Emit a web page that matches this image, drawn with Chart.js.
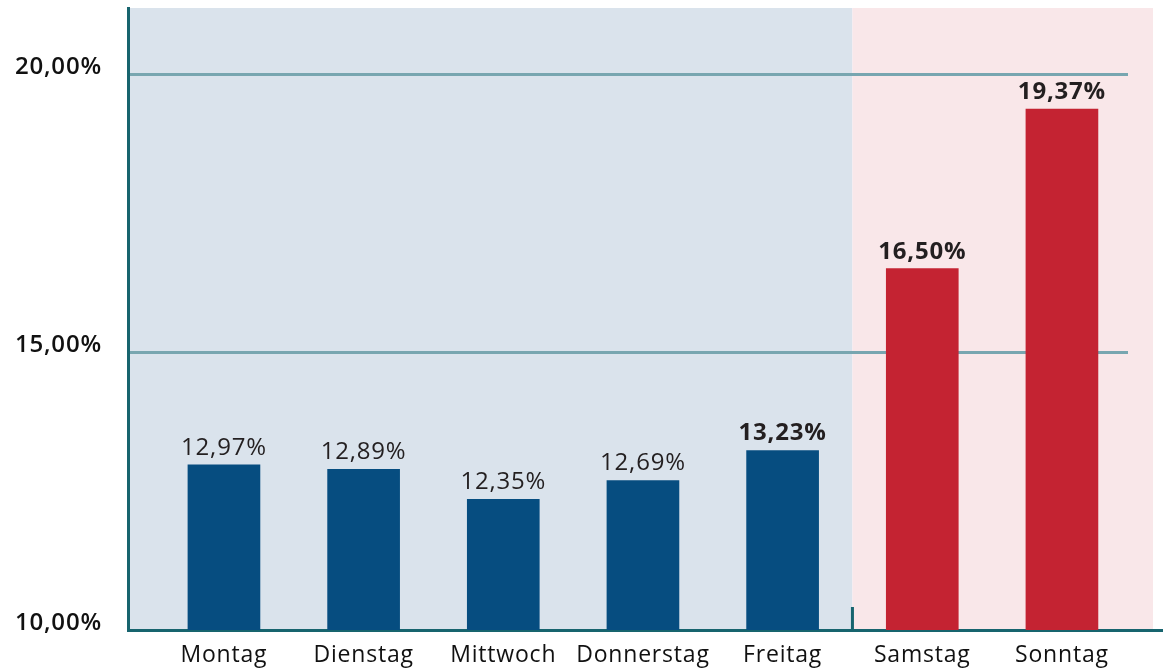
<!DOCTYPE html>
<html>
<head>
<meta charset="utf-8">
<script src="https://cdn.jsdelivr.net/npm/chart.js@4.4.0/dist/chart.umd.min.js"></script>
<style>
  html, body { margin: 0; padding: 0; background: #fff; }
  #wrap { width: 1163px; height: 671px; }
</style>
</head>
<body>
<div id="wrap"><canvas id="chart"></canvas></div>
<script>
// Daten
var tage = ['Montag', 'Dienstag', 'Mittwoch', 'Donnerstag', 'Freitag', 'Samstag', 'Sonntag'];
var anteile = [12.97, 12.89, 12.35, 12.69, 13.23, 16.50, 19.37];
var fettMarkiert = [false, false, false, false, true, true, true];
var wochenende = [false, false, false, false, false, true, true];
var yTicks = [10, 15, 20];

var blau = '#064d80';
var rot = '#c42332';
var achse = '#17646e';
var gitter = '#78a6b0';
var schrift = "'Open Sans', sans-serif";

function prozent(v) {
  return v.toFixed(2).replace('.', ',') + '%';
}

// Hintergrund Werktage / Wochenende
var hintergrund = {
  id: 'hintergrund',
  beforeDraw: function (chart) {
    var ctx = chart.ctx;
    var a = chart.chartArea;
    var split = chart.scales.x.getPixelForValue(4.5);
    ctx.save();
    ctx.fillStyle = '#dae3ec';
    ctx.fillRect(a.left, a.top, split - a.left, a.bottom - a.top);
    ctx.fillStyle = '#f9e7e9';
    ctx.fillRect(split, a.top, 1153 - split, a.bottom - a.top);
    ctx.restore();
    ctx.letterSpacing = '0.8px';
  },
  afterDraw: function (chart) {
    var ctx = chart.ctx;
    var a = chart.chartArea;
    var split = chart.scales.x.getPixelForValue(4.5);
    ctx.save();
    ctx.strokeStyle = achse;
    ctx.lineWidth = 3;
    ctx.beginPath();
    ctx.moveTo(a.right - 2, a.bottom + 0.5);
    ctx.lineTo(chart.width, a.bottom + 0.5);
    ctx.moveTo(split, a.bottom - 23);
    ctx.lineTo(split, a.bottom);
    ctx.stroke();
    ctx.restore();
  }
};

// Werte über den Balken
var werte = {
  id: 'werte',
  afterDatasetsDraw: function (chart) {
    var ctx = chart.ctx;
    var meta = chart.getDatasetMeta(0);
    ctx.save();
    ctx.fillStyle = '#231f20';
    ctx.textAlign = 'center';
    ctx.textBaseline = 'middle';
    meta.data.forEach(function (bar, i) {
      ctx.font = (fettMarkiert[i] ? '700 ' : '400 ') + '24px ' + schrift;
      ctx.fillText(prozent(anteile[i]), bar.x, bar.y - 17);
    });
    ctx.restore();
  }
};

var ctx = document.getElementById('chart').getContext('2d');
new Chart(ctx, {
  type: 'bar',
  data: {
    datasets: [{
      data: tage.map(function (t, i) { return { x: i, y: anteile[i] }; }),
      backgroundColor: wochenende.map(function (w) { return w ? rot : blau; }),
      barThickness: 72
    }]
  },
  options: {
    responsive: true,
    maintainAspectRatio: false,
    animation: false,
    layout: { padding: { left: 15, right: 35, top: 8, bottom: 3 } },
    plugins: { legend: { display: false }, tooltip: { enabled: false } },
    scales: {
      x: {
        type: 'linear',
        offset: false,
        min: -0.687,
        max: 6.473,
        afterBuildTicks: function (s) {
          s.ticks = tage.map(function (t, i) { return { value: i }; });
        },
        afterFit: function (s) {
          s.height = 38;
          s.paddingLeft = 0;
          s.paddingRight = 0;
        },
        grid: { display: false, drawTicks: false },
        border: { display: true, color: achse, width: 3 },
        ticks: {
          padding: 12,
          color: '#111',
          font: { family: schrift, size: 23 },
          maxRotation: 0,
          autoSkip: false,
          callback: function (v) { return tage[v]; }
        }
      },
      y: {
        min: 10,
        max: 21.19,
        afterBuildTicks: function (s) {
          s.ticks = yTicks.map(function (v) { return { value: v }; });
        },
        afterFit: function (s) {
          s.width = 113;
          s.paddingTop = 0;
          s.paddingBottom = 0;
        },
        grid: {
          drawTicks: false,
          lineWidth: 3,
          color: function (c) { return c.tick && c.tick.value === 10 ? 'rgba(0,0,0,0)' : gitter; }
        },
        border: { display: true, color: achse, width: 3 },
        ticks: {
          crossAlign: 'far',
          labelOffset: -7,
          color: '#111',
          font: { family: schrift, size: 24, weight: '600' },
          callback: function (v) { return prozent(v); }
        }
      }
    }
  },
  plugins: [hintergrund, werte]
});
</script>
</body>
</html>
